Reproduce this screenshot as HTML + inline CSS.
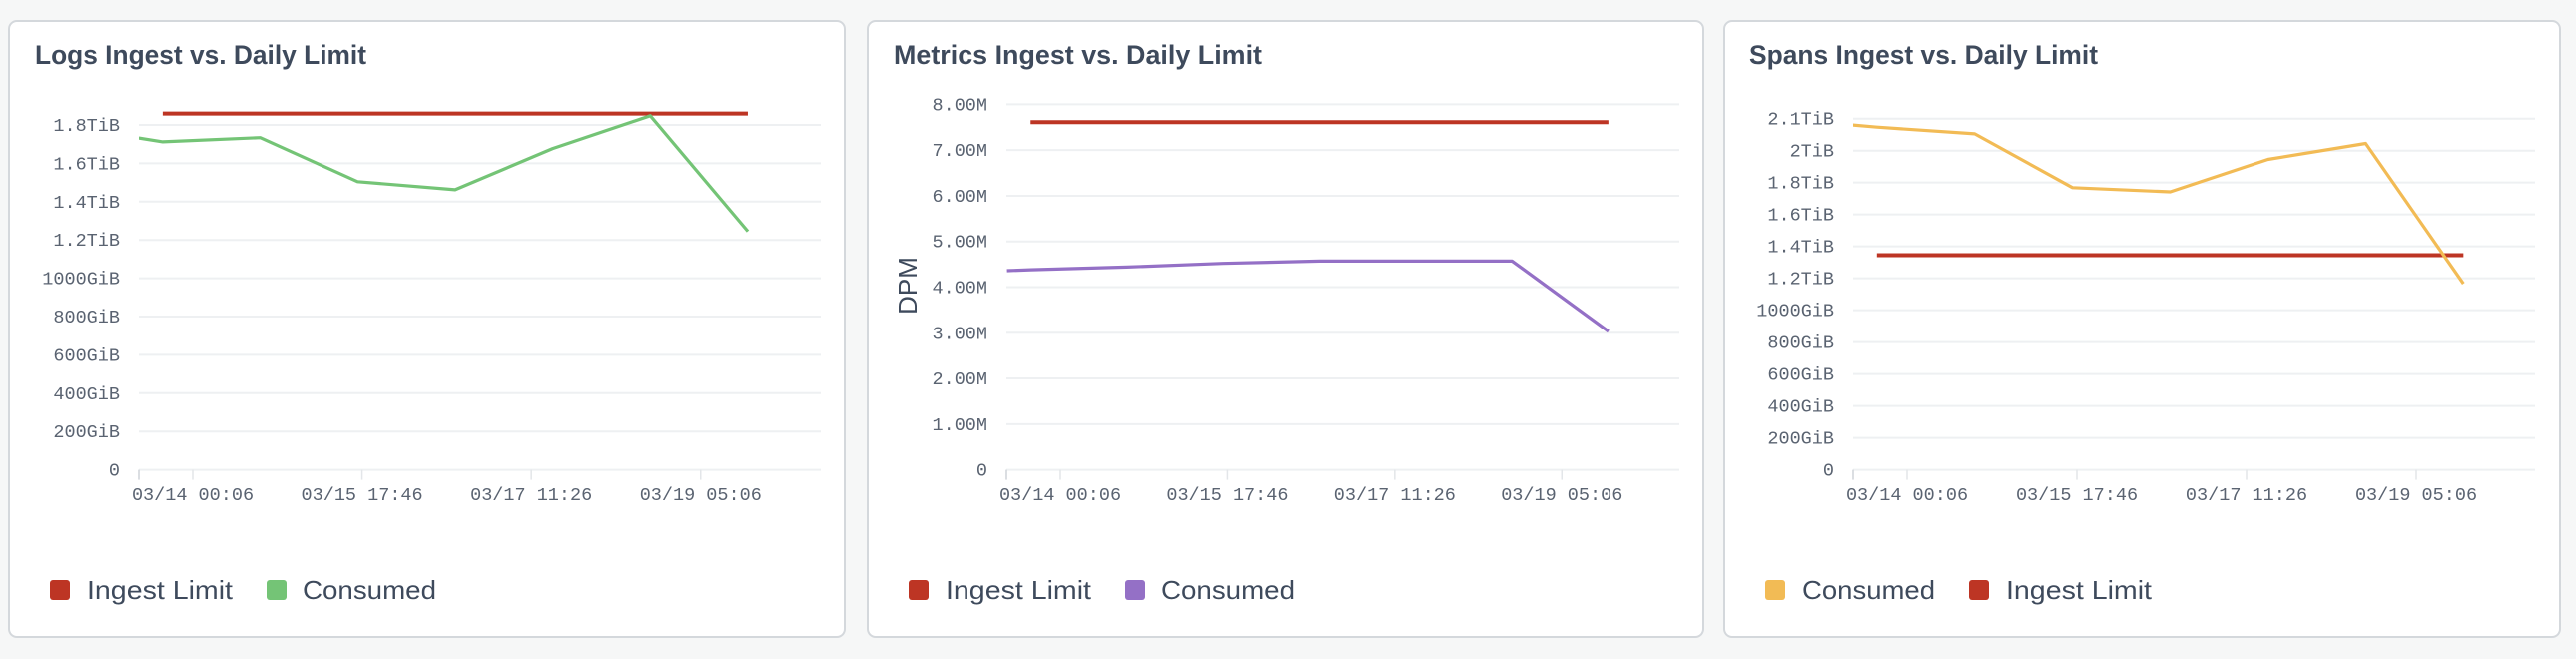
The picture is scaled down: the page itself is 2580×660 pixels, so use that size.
<!DOCTYPE html>
<html><head><meta charset="utf-8"><style>
html,body{margin:0;padding:0;background:#f6f7f7;}
svg{display:block;}
.ttl{font-family:"Liberation Sans",sans-serif;font-weight:bold;fill:#3e4a5c;font-size:27px;}
.tick{font-family:"Liberation Mono",monospace;fill:#5a6371;font-size:18.5px;}
.leg{font-family:"Liberation Sans",sans-serif;fill:#3e4a5c;font-size:26px;}
</style></head><body>
<svg id="root" width="2580" height="660" viewBox="0 0 2580 660"></svg>
<script>
// ---- shared x data (hours relative to 03/14 00:06) ----
const xHours = [-13.3, -7.4, 16.6, 40.6, 64.6, 88.6, 112.6, 136.6];
const xTickHours = [0, 41.667, 83.333, 125];
const xTickLabels = ["03/14 00:06", "03/15 17:46", "03/17 11:26", "03/19 05:06"];
const limitHours = [-7.4, 136.6];

// ---- Logs ----
const logsTicks = [0,200,400,600,800,1000,1200,1400,1600,1800];
const logsTickLabels = ["0","200GiB","400GiB","600GiB","800GiB","1000GiB","1.2TiB","1.4TiB","1.6TiB","1.8TiB"];
const logsConsumed = [1732,1712,1734,1504,1462,1677,1848,1245];
const logsLimit = 1859;

// ---- Metrics ----
const metricsTicks = [0,1,2,3,4,5,6,7,8];
const metricsTickLabels = ["0","1.00M","2.00M","3.00M","4.00M","5.00M","6.00M","7.00M","8.00M"];
const metricsConsumed = [4.36,4.38,4.44,4.52,4.57,4.57,4.57,3.03];
const metricsLimit = 7.61;

// ---- Spans ----
const spansTicks = [0,200,400,600,800,1000,1200,1400,1600,1800,2000,2200];
const spansTickLabels = ["0","200GiB","400GiB","600GiB","800GiB","1000GiB","1.2TiB","1.4TiB","1.6TiB","1.8TiB","2TiB","2.1TiB"];
const spansConsumed = [2160,2147,2105,1768,1742,1945,2045,1166];
const spansLimit = 1345;

const NS="http://www.w3.org/2000/svg";
const root=document.getElementById('root');
function mk(tag,attrs,parent){const e=document.createElementNS(NS,tag);for(const k in attrs)e.setAttribute(k,attrs[k]);(parent||root).appendChild(e);return e;}

const panels=[
 {name:'logs',px:9,title:"Logs Ingest vs. Daily Limit",titleX:35,titleW:332,
  x0:193,pph:4.070,left:139,right:822,top:125,bottom:470.6,yLabX:120,
  ticks:logsTicks,labels:logsTickLabels,ymax:1800,consumed:logsConsumed,limit:logsLimit,color:'#74c476',
  legend:[['Ingest Limit','#bd3524',50,87,146],['Consumed','#74c476',267,303,134]]},
 {name:'metrics',px:869,title:"Metrics Ingest vs. Daily Limit",titleX:895,titleW:369,
  x0:1062,pph:4.018,left:1008,right:1682,top:104.4,bottom:470.6,yLabX:989,
  ticks:metricsTicks,labels:metricsTickLabels,ymax:8,consumed:metricsConsumed,limit:metricsLimit,color:'#9470c6',
  legend:[['Ingest Limit','#bd3524',910,947,146],['Consumed','#9470c6',1127,1163,134]],yTitle:'DPM'},
 {name:'spans',px:1727,title:"Spans Ingest vs. Daily Limit",titleX:1752,titleW:349,
  x0:1910,pph:4.08,left:1856,right:2539,top:118.7,bottom:470.6,yLabX:1837,
  ticks:spansTicks,labels:spansTickLabels,ymax:2200,consumed:spansConsumed,limit:spansLimit,color:'#f2bb55',
  legend:[['Consumed','#f2bb55',1768,1805,133],['Ingest Limit','#bd3524',1972,2009,146]]}
];

panels.forEach(p=>{
  const g=mk('g',{});
  
  
  const card=mk('rect',{x:p.px,y:21,width:837,height:617,rx:8,fill:'#fff',stroke:'#d4d8dc','stroke-width':2},g);
  
  
  const t=mk('text',{x:p.titleX,y:64,class:'ttl',textLength:p.titleW,lengthAdjust:'spacingAndGlyphs'},g);
  t.textContent=p.title;
  
  
  const xs=h=>p.x0+h*p.pph;
  const ys=v=>p.bottom-(v/p.ymax)*(p.bottom-p.top);
  // grid + y labels
  p.ticks.forEach((v,i)=>{
    const l=mk('line',{x1:p.left,x2:p.right,y1:ys(v),y2:ys(v),stroke:'#eef0f2','stroke-width':2},g);
    
    
    const tx=mk('text',{x:p.yLabX,y:ys(v)+6,class:'tick','text-anchor':'end'},g);
    tx.textContent=p.labels[i];
    
    
  });
  // x ticks
  const t0=mk('line',{x1:p.left,x2:p.left,y1:p.bottom,y2:p.bottom+10,stroke:'#cfd3d8','stroke-width':1.5},g);
  
  
  xTickHours.forEach((h,i)=>{
    const l=mk('line',{x1:xs(h),x2:xs(h),y1:p.bottom,y2:p.bottom+10,stroke:'#e3e6e9','stroke-width':1.5},g);
    
    
    const tx=mk('text',{x:xs(h),y:501,class:'tick','text-anchor':'middle'},g);
    tx.textContent=xTickLabels[i];
    
    
  });
  if(p.yTitle){
    const yt=mk('text',{x:0,y:0,class:'leg',transform:`translate(918,286) rotate(-90)`,'text-anchor':'middle','font-size':'22'},g);
    yt.textContent=p.yTitle;
    
    
  }
  // clip
  const cid='clip-'+p.name;
  const cp=mk('clipPath',{id:cid},g);
  mk('rect',{x:p.left,y:p.top-40,width:p.right-p.left,height:p.bottom-p.top+40},cp);
  const limitLine=()=>{
    const l=mk('line',{x1:xs(limitHours[0]),x2:xs(limitHours[1]),y1:ys(p.limit),y2:ys(p.limit),stroke:'#bd3524','stroke-width':4},g);
    
    
  };
  const consLine=()=>{
    const pts=p.consumed.map((v,i)=>xs(xHours[i]).toFixed(1)+','+ys(v).toFixed(1)).join(' ');
    const l=mk('polyline',{points:pts,fill:'none',stroke:p.color,'stroke-width':3.2,'stroke-linejoin':'round','clip-path':`url(#${cid})`},g);
    
    
  };
  if(p.name==='spans'){limitLine();consLine();}else{limitLine();consLine();}
  // legend
  p.legend.forEach(([lab,col,sx,tx,tw])=>{
    const lg=mk('g',{},g);
    
    
    mk('rect',{x:sx,y:581,width:20,height:20,rx:3,fill:col},lg);
    const tt=mk('text',{x:tx,y:600,class:'leg',textLength:tw,lengthAdjust:'spacingAndGlyphs'},lg);
    tt.textContent=lab;
  });
});
</script>
</body></html>
